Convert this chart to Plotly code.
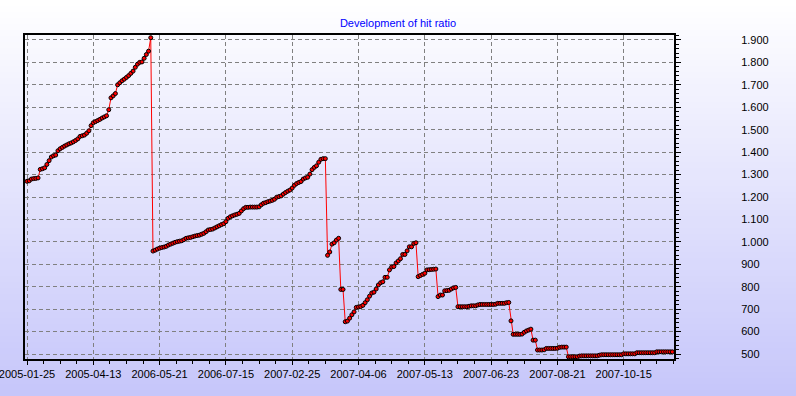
import plotly.graph_objects as go

tick_labels = ["2005-01-25", "2005-04-13", "2006-05-21", "2006-07-15", "2007-02-25",
               "2007-04-06", "2007-05-13", "2007-06-23", "2007-08-21", "2007-10-15"]
points_per_label = 30

hit_ratio_a = [
    1270, 1272, 1280, 1282, 1283, 1285, 1323, 1326, 1330, 1345,
    1362, 1378, 1384, 1387, 1406, 1415, 1421, 1427, 1432, 1437,
    1441, 1446, 1452, 1459, 1470, 1473, 1476, 1484, 1495, 1518,
    1531, 1536, 1541, 1546, 1552, 1557, 1562, 1589, 1642, 1651,
    1661, 1700, 1709, 1718, 1725, 1733, 1741, 1751, 1761, 1778,
    1792, 1800, 1802, 1818, 1835, 1850, 1910,
]
hit_ratio_b = [
    959, 963, 968, 972, 975, 977, 980, 986, 990, 994,
    998, 1001, 1003, 1005, 1010, 1016, 1018, 1020, 1023, 1026,
    1028, 1030, 1034, 1038, 1045, 1053, 1055, 1057, 1062, 1067,
    1072, 1077, 1081, 1090, 1105, 1112, 1116, 1120, 1123, 1127,
    1138, 1148, 1154, 1154, 1155, 1155, 1155, 1155, 1156, 1165,
    1172, 1175, 1179, 1182, 1185, 1190, 1199, 1202, 1205, 1213,
    1220, 1226, 1231, 1240, 1252, 1260, 1265, 1269, 1280, 1285,
    1288, 1302, 1322, 1332, 1339, 1355, 1368, 1371, 1371,
]
hit_ratio_c = [
    940, 955, 990, 996, 1008, 1016, 788, 788, 644, 647,
    660, 675, 688, 708, 710, 712, 717, 729, 742, 758,
    772, 776, 790, 808, 818, 822, 842, 842, 875, 888,
    890, 906, 915, 925, 944, 944, 960, 978, 978, 993,
    996, 845, 850, 855, 860, 875, 876, 877, 878, 879,
    756, 763, 763, 782, 783, 784, 790, 795, 797, 711,
    711, 711, 711, 711, 713, 715, 715, 715, 719, 721,
    721, 721, 721, 721, 721, 721, 722, 726, 726, 726,
    726, 729, 730,
]
hit_ratio_d = [
    648, 588, 588, 588, 588, 589, 597, 603, 607, 611,
    562, 562, 518, 518, 518, 519, 525, 525, 525, 525,
    525, 526, 530, 531, 531, 531, 488, 488, 488, 488,
    488, 491, 492, 492, 492, 492, 492, 492, 492, 492,
    495, 497, 497, 497, 497, 497, 497, 497, 497, 497,
    497, 501, 501, 501, 501, 501, 501, 506, 506, 506,
    506, 506, 506, 506, 506, 506, 510, 510, 510, 510,
    510, 510, 510, 510,
]

values = hit_ratio_a + hit_ratio_b + hit_ratio_c + hit_ratio_d
x_idx = list(range(len(values)))
tick_pos = [k * points_per_label for k in range(len(tick_labels))]

W, H = 796, 396
ml, mr, mt, mb = 25, 122, 35, 37
pw, ph = W - ml - mr, H - mt - mb

fig = go.Figure()
fig.add_trace(go.Scatter(
    x=x_idx, y=values, mode="lines+markers",
    line=dict(color="#FF0000", width=1),
    marker=dict(symbol="circle", size=4, color="#FF0000",
                line=dict(color="#000000", width=1)),
    hoverinfo="y", showlegend=False,
))

# vertical background gradient (white -> lavender) as thin bands
shapes = []
nb = 66
top = (255, 255, 255)
bot = (198, 198, 250)
for b in range(nb):
    t = (b + 0.5) / nb
    c = tuple(round(top[j] + (bot[j] - top[j]) * t) for j in range(3))
    y_px0 = H * b / nb
    y_px1 = H * (b + 1) / nb + 0.5
    shapes.append(dict(
        type="rect", xref="paper", yref="paper", layer="below",
        x0=-ml / pw - 0.01, x1=1 + mr / pw + 0.01,
        y0=(H - mb - y_px1) / ph, y1=(H - mb - y_px0) / ph,
        fillcolor="rgb(%d,%d,%d)" % c, line=dict(width=0),
    ))

px_per_pt = 2.21
x_first = 27 - ml
x_lo = -x_first / px_per_pt
x_hi = x_lo + pw / px_per_pt

fig.update_layout(
    width=W, height=H,
    margin=dict(l=ml, r=mr, t=mt, b=mb, pad=0, autoexpand=False),
    paper_bgcolor="white",
    plot_bgcolor="rgba(0,0,0,0)",
    separators=",.",
    shapes=shapes,
    font=dict(family="Liberation Sans, Arial, sans-serif", size=11, color="black"),
    title=dict(text="Development of hit ratio", x=0.5, xanchor="center",
               y=1 - 23 / H, yanchor="middle", yref="container",
               font=dict(family="Liberation Sans, Arial, sans-serif", size=11, color="#0000FF")),
    xaxis=dict(
        range=[x_lo, x_hi], tickmode="array", tickvals=tick_pos, ticktext=tick_labels,
        showline=True, linecolor="black", linewidth=2, mirror=True,
        ticks="outside", ticklen=4, tickcolor="black", tickwidth=1,
        ticklabeloverflow="allow",
        showgrid=True, gridcolor="#808080", gridwidth=1, griddash="4px,3px",
        zeroline=False,
        minor=dict(tickmode="linear", tick0=0, dtick=points_per_label / 4,
                   ticks="outside", ticklen=3, tickcolor="black", showgrid=False),
        tickfont=dict(size=11, color="black"),
    ),
    yaxis=dict(
        range=[478, 1922], side="right", tickmode="linear", tick0=500, dtick=100,
        tickformat=",d",
        showline=True, linecolor="black", linewidth=2, mirror=True,
        ticks="outside", ticklen=5, tickcolor="black", tickwidth=1,
        ticklabelstandoff=58,
        showgrid=True, gridcolor="#808080", gridwidth=1, griddash="4px,3px",
        zeroline=False,
        minor=dict(tickmode="linear", tick0=500, dtick=20,
                   ticks="outside", ticklen=3, tickcolor="black", showgrid=False),
        tickfont=dict(size=11, color="black"),
    ),
)

fig.write_html(
    "out.html",
    config={"displayModeBar": False},
    post_script="document.body.style.margin='0';document.body.style.padding='0';",
)
